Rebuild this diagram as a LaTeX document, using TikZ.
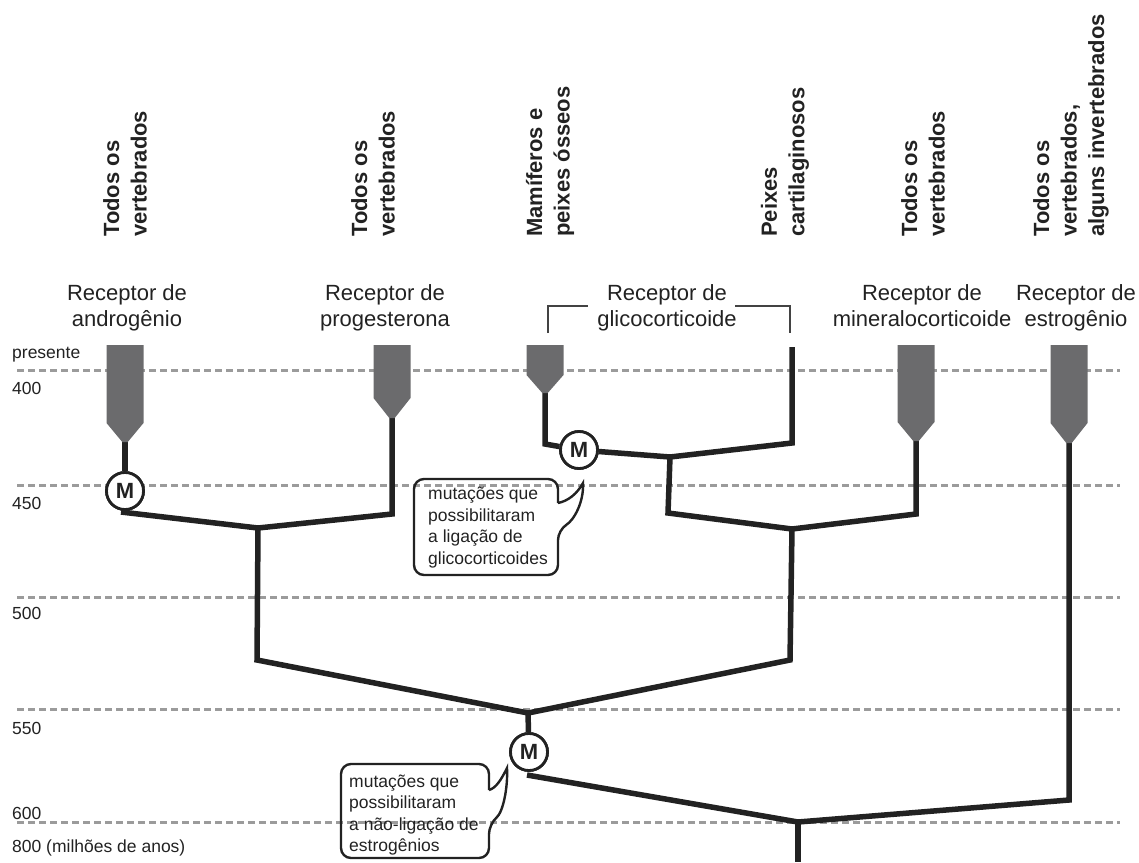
\documentclass[tikz,border=0pt]{standalone}
\usepackage{fontspec}
\setmainfont{Liberation Sans}
\definecolor{ink}{HTML}{222222}
\definecolor{leafgray}{HTML}{6B6B6D}
\definecolor{dashgray}{HTML}{9B9B9B}
\begin{document}
\begin{tikzpicture}[x=1pt,y=-1pt,
  branch/.style={line width=5.5pt, draw=ink, line join=miter, line cap=butt},
  gridline/.style={line width=3pt, draw=dashgray, dash pattern=on 7pt off 4pt},
  leaf/.style={fill=leafgray, draw=none},
  mnode/.style={circle, draw=ink, line width=2.8pt, fill=white, minimum size=37pt, inner sep=0pt, font=\fontsize{22}{22}\selectfont\bfseries, text=ink},
  rec/.style={anchor=north, align=center, font=\fontsize{22}{26}\selectfont, text=ink, inner sep=0pt},
  taxon/.style={rotate=90, anchor=west, align=left, font=\fontsize{22}{27.5}\selectfont\bfseries, text=ink, inner sep=0pt},
  axislbl/.style={anchor=west, font=\fontsize{17.5}{20}\selectfont, text=ink, inner sep=0pt},
  note/.style={anchor=north west, align=left, font=\fontsize{17.5}{21.5}\selectfont, text=ink, inner sep=0pt},
  bubble/.style={draw=ink, line width=2.4pt},
  bracketline/.style={draw=ink!85, line width=1.8pt}
]
\useasboundingbox (0,0) rectangle (1139,862);

% time grid
\foreach \yy in {370,485,597,709,822}
  \draw[gridline] (17,\yy) -- (1120,\yy);

% axis labels
\node[axislbl] (tpres) at (12,355) {presente};
\node[axislbl] (t400) at (12,388) {400};
\node[axislbl] (t450) at (12,503) {450};
\node[axislbl] (t500) at (12,613) {500};
\node[axislbl] (t550) at (12,728) {550};
\node[axislbl] (t600) at (12,813) {600};
\node[axislbl] (t800) at (12,848) {800 (milhões de anos)};

% coordinates
\coordinate (Atip) at (125,442);
\coordinate (MAout) at (121,512);
\coordinate (Ptip) at (392,418);
\coordinate (Pbend) at (392,514);
\coordinate (J1) at (258,528);
\coordinate (J1low) at (257,660);
\coordinate (J3) at (528,713);
\coordinate (Gtip) at (545,393);
\coordinate (Gbend) at (545,444);
\coordinate (J2a) at (670,457);
\coordinate (Ctop) at (792,347);
\coordinate (Cbend) at (792,443);
\coordinate (J2alow) at (668,513);
\coordinate (J2b) at (792,529);
\coordinate (Mitip) at (916,441);
\coordinate (Mibend) at (916,514);
\coordinate (J2blow) at (790,660);
\coordinate (MCout) at (527,775);
\coordinate (J4) at (798,822);
\coordinate (Etip) at (1069,443);
\coordinate (Ebend) at (1069,800);
\coordinate (J4low) at (798,862);

% M nodes (placed first so they can be referenced; redrawn on top below)
\node[mnode] (MA) at (125,491) {M};
\node[mnode] (MB) at (579,450) {M};
\node[mnode] (MC) at (529,752) {M};

% speech bubbles
\draw[bubble] (558,503) [rounded corners=10pt] -- (558,479) -- (414,479) -- (414,575) -- (558,575) -- (558,530) [sharp corners]
  .. controls (574,520) and (584,502) .. (583,483)
  .. controls (577,494) and (568,501) .. (558,503);
\draw[bubble] (489,790) [rounded corners=10pt] -- (489,764) -- (341,764) -- (341,858) -- (489,858) -- (489,824) [sharp corners]
  .. controls (503,812) and (508,788) .. (507,768)
  .. controls (501,780) and (496,788) .. (489,790);
\node[note] (n1) at (428,487) {mutações que\\possibilitaram\\a ligação de\\glicocorticoides};
\node[note] (n2) at (349,774.5) {mutações que\\possibilitaram\\a não-ligação de\\estrogênios};

% branches
\draw[branch] (Atip) -- (MA);
\draw[branch] (MAout) -- (J1) -- (Pbend) -- (Ptip);
\draw[branch] (J1) -- (J1low) -- (J3);
\draw[branch] (Gtip) -- (Gbend) -- (MB);
\draw[branch] (MB) -- (J2a) -- (Cbend) -- (Ctop);
\draw[branch] (J2a) -- (J2alow) -- (J2b) -- (Mibend) -- (Mitip);
\draw[branch] (J2b) -- (J2blow) -- (J3);
\draw[branch] (J3) -- (MC);
\draw[branch] (MCout) -- (J4) -- (Ebend) -- (Etip);
\draw[branch] (J4) -- (J4low);

% leaves (receptor heads)
\foreach \cx/\yb/\yt in {125/423/442, 392/398/418, 545/375/393, 916/422/441, 1069/423/443}
  \fill[leafgray] (\cx-18.5,345) -- (\cx+18.5,345) -- (\cx+18.5,\yb) -- (\cx+2.75,\yt) -- (\cx-2.75,\yt) -- (\cx-18.5,\yb) -- cycle;

% redraw M nodes on top
\node[mnode] at (MA) {M};
\node[mnode] at (MB) {M};
\node[mnode] at (MC) {M};

% receptor labels
\node[rec] (rA) at (127,284) {Receptor de\\androgênio};
\node[rec] (rP) at (385,284) {Receptor de\\progesterona};
\node[rec] (rG) at (667,284) {Receptor de\\glicocorticoide};
\node[rec] (rMi) at (922,284) {Receptor de\\mineralocorticoide};
\node[rec] (rE) at (1076,284) {Receptor de\\estrogênio};

% bracket for glucocorticoid
\draw[bracketline] (548,333) -- (548,306) -- (588,306);
\draw[bracketline] (735,306) -- (790,306) -- (790,333);

% taxon labels
\node[taxon] (x1) at (125,237) {Todos os\\vertebrados};
\node[taxon] (x2) at (373,237) {Todos os\\vertebrados};
\node[taxon] (x3) at (550,237) {Mamíferos e\\peixes ósseos};
\node[taxon] (x4) at (785,237) {Peixes\\cartilaginosos};
\node[taxon] (x5) at (923,237) {Todos os\\vertebrados};
\node[taxon] (x6) at (1071,237) {Todos os\\vertebrados,\\alguns invertebrados};
\end{tikzpicture}
\end{document}
